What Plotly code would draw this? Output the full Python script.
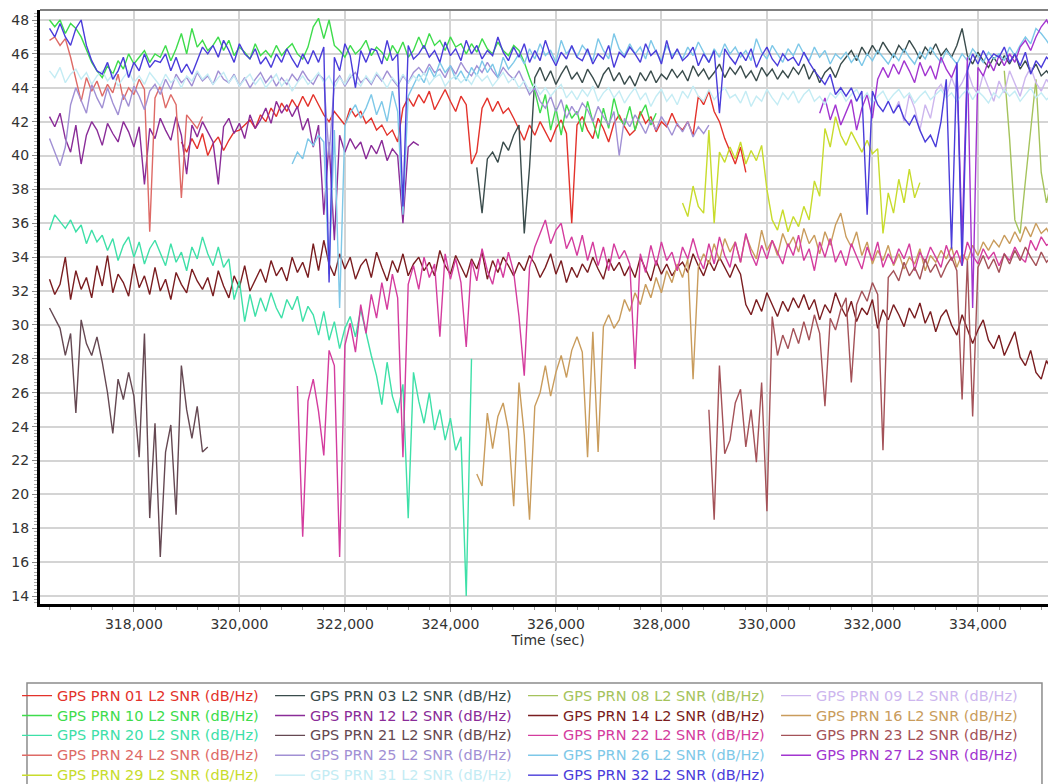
import plotly.graph_objects as go

# Sample interval of every SNR record (seconds)
STEP = 100

prn01_start = 318900
prn01_snr = [40.8, 40.2, 41.0, 40.4, 41.3, 40.0, 40.7, 41.1, 40.3, 40.9, 41.4, 41.5,
             41.8, 42.1, 41.6, 42.4, 42.0, 42.8, 42.3, 43.1, 42.6, 43.3, 42.8,
             43.5, 42.9, 43.6, 43.0, 42.4, 42.0, 42.6, 42.2, 41.8,
             42.8, 42.3, 42.6, 41.9, 42.2, 41.5, 41.8, 41.2, 41.5, 40.8,
             42.8, 43.4, 42.9, 43.6, 43.1, 43.8, 42.7, 43.3, 43.9, 43.2, 42.6, 43.5, 43.0,
             39.5, 40.2, 42.8, 43.4, 42.6, 43.2, 42.5,
             42.8, 42.2, 41.5, 40.9, 41.8, 41.2, 42.0, 41.4, 40.8,
             41.6, 42.1, 41.3, 36.0, 41.8, 42.3, 41.5, 41.0, 42.2, 41.6, 40.8, 41.9, 42.4, 41.7, 41.2,
             41.5, 42.6, 41.9, 42.3, 41.4, 42.0, 41.7, 42.5, 41.8, 41.5,
             42.0, 41.2, 43.5, 43.0, 43.8, 42.6, 42.0, 41.0, 40.2, 39.5, 40.5, 39.0]

prn03_start = 324500
prn03_snr = [39.3, 36.6, 39.8, 40.2, 39.6, 40.8, 40.3, 41.2, 41.8, 35.4,
             39.3, 44.6, 45.2, 44.4, 45.0, 44.2, 44.8, 45.3, 44.5,
             44.9, 44.3, 45.1, 44.6, 44.0, 44.8, 45.2, 44.4, 44.9, 44.2,
             44.7, 44.1, 44.9, 44.4, 45.0, 44.3, 44.8, 44.5, 45.1, 44.6,
             45.0, 44.4, 45.3, 44.7, 45.1, 44.5, 44.9, 45.4, 44.6, 45.2,
             44.8, 45.3, 44.6, 45.0, 44.4, 45.2, 44.7, 45.1, 44.5, 45.0,
             44.6, 45.2, 44.8, 45.4, 44.5, 45.1, 44.3, 44.9, 45.2, 44.6,
             45.4, 45.8, 46.2, 45.6, 46.4, 45.9, 46.5, 46.0, 46.7, 46.2,
             45.8, 46.5, 46.1, 46.8, 46.3, 45.7, 46.4, 46.0, 46.6, 45.9,
             46.3, 45.8, 46.5, 47.5, 45.9, 45.4, 46.1, 45.6, 45.2, 45.8,
             45.3, 45.9, 45.4, 46.0, 45.1, 45.6, 44.9, 45.4, 44.7, 45.0, 44.6]

prn08_start = 334500
prn08_snr = [45.0, 41.0, 36.2, 35.4, 38.5, 41.5, 44.5, 39.0, 37.2, 38.6]

prn09_start = 332400
prn09_snr = [42.5, 43.2, 42.0, 43.6, 42.8, 41.5, 43.0, 42.2, 43.8, 44.2,
             43.5, 44.6, 43.8, 44.3, 45.0, 44.1, 43.6, 44.8, 44.0, 43.2,
             44.4, 43.7, 45.0, 44.2, 43.5, 44.6, 45.2, 44.3, 43.8, 44.5, 44.0]

prn10_start = 316400
prn10_snr = [48.0, 47.6, 48.0, 47.2, 47.8, 47.5, 47.0, 46.2, 45.5, 45.0,
             44.6, 45.3, 44.8, 45.6, 45.1, 46.0, 45.4, 45.8, 46.2, 45.5,
             46.0, 45.8, 46.5, 45.6, 46.3, 47.2, 46.0, 47.5, 46.4, 46.8,
             46.2, 46.5, 47.0, 46.2, 46.8, 45.9, 46.4, 46.1, 45.7, 46.6,
             45.9, 46.2, 45.8, 46.5, 45.9, 46.3, 46.6, 46.0, 45.7, 46.4,
             47.6, 48.1, 46.9, 48.0, 46.5, 46.2, 45.8, 46.5, 46.0, 46.3,
             46.8, 45.9, 46.4, 46.1, 45.6, 46.5, 46.0, 46.7, 45.8, 46.2,
             47.0, 46.3, 47.2, 46.5, 46.8, 46.2, 47.0, 46.4, 46.6, 46.0,
             46.6, 46.1, 46.9, 46.3, 46.0, 46.7, 46.2, 45.9, 46.5, 46.2,
             45.5, 44.6, 43.8, 42.5, 43.6, 41.5, 42.8, 41.2, 43.0, 42.2,
             42.6, 41.4, 43.2, 42.0, 41.0, 42.8, 41.6, 43.4, 42.2, 41.8,
             42.9, 41.5, 42.4, 43.0, 41.8, 42.5]

prn12_start = 316400
prn12_snr = [42.3, 41.7, 42.5, 41.0, 40.2, 41.8, 39.5, 41.2, 42.0, 41.5,
             40.6, 41.9, 41.3, 40.8, 42.0, 41.4, 40.5, 41.7, 38.3, 41.6,
             41.0, 42.2, 41.5, 40.9, 42.3, 41.2, 38.9, 41.8, 41.1, 42.0,
             41.4, 40.8, 38.3, 41.7, 42.2, 41.3, 41.9, 41.0, 42.4, 41.6,
             42.1, 42.8, 41.9, 43.2, 42.5, 43.0, 42.3, 42.9, 41.5, 42.2,
             40.5, 41.8, 36.5, 40.8, 35.0, 41.2, 40.2, 41.0, 40.4, 40.8,
             39.8, 40.6, 40.1, 40.9, 39.7, 40.4, 40.0, 36.0, 40.5, 40.8, 40.6]

prn14_start = 316400
prn14_snr = [32.7, 31.8, 32.4, 34.0, 31.5, 33.2, 32.1, 32.8, 31.6, 33.5,
             32.3, 34.1, 31.9, 33.0, 32.5, 31.7, 33.6, 32.2, 32.9, 31.8,
             33.4, 32.0, 32.7, 31.5, 33.1, 32.4, 31.9, 33.3, 32.6, 32.1,
             32.8, 31.7, 33.2, 32.3, 31.6, 32.9, 32.2, 33.5, 32.0, 32.7,
             33.3, 32.5, 33.8, 32.9, 33.4, 32.6, 34.0, 33.1, 33.7, 32.8,
             34.8, 33.2, 35.0, 33.6, 32.9, 34.2, 33.3, 34.0, 32.7, 33.5,
             33.9, 32.8, 34.3, 33.4, 32.6, 33.8, 33.1, 34.2, 32.9, 33.6,
             34.0, 33.2, 33.7, 32.9, 34.4, 33.5, 33.0, 34.1, 33.4, 32.8,
             33.9, 33.3, 34.3, 32.7, 33.8, 33.1, 34.0, 33.5, 32.9, 33.7,
             33.2, 34.1, 33.6, 32.8, 33.4, 34.2, 33.0, 33.8, 32.5, 33.4,
             32.8, 33.6, 33.1, 34.0, 33.3, 32.7, 33.9, 33.2, 33.7, 32.9,
             33.5, 32.8, 34.0, 33.3, 32.6, 33.8, 33.0, 33.6, 32.9, 33.4,
             33.7, 33.1, 34.2, 33.5, 32.9, 33.8, 33.2, 34.0, 33.4, 32.8,
             33.6, 33.0, 31.2, 30.6, 31.5, 30.8, 31.9, 31.2, 30.5, 31.4,
             30.8, 31.6, 31.0, 31.8, 30.9, 31.5, 30.3, 31.2, 30.7, 31.9,
             31.1, 30.5, 31.4, 30.2, 31.0, 30.6, 31.5, 29.8, 30.9, 30.3,
             31.2, 30.6, 29.9, 31.0, 30.4, 31.3, 30.1, 30.8, 29.6, 30.5,
             30.9, 30.0, 29.4, 30.6, 29.8, 28.9, 29.7, 30.3, 29.1, 28.6,
             29.4, 28.2, 28.9, 29.6, 28.1, 27.6, 28.5, 27.2, 26.8, 27.9, 27.3]

prn16_start = 324500
prn16_snr = [21.2, 20.5, 24.8, 22.7, 24.6, 25.4, 23.8, 19.3, 26.6,
             23.5, 18.5, 25.2, 26.0, 27.6, 25.8, 27.2, 28.2, 26.9, 28.5,
             29.3, 28.4, 22.2, 29.6, 22.5, 29.9, 30.6, 29.8, 30.3, 31.5,
             30.8, 31.9, 31.2, 32.4, 31.6, 32.8, 31.9, 33.2, 32.5, 33.6,
             32.8, 33.9, 26.8, 33.4, 34.2, 33.6, 34.8, 33.8, 35.1, 34.3,
             34.9, 33.7, 35.3, 34.5, 33.9, 35.6, 34.4, 35.0, 34.1, 35.4,
             34.6, 35.2, 34.3, 35.7, 34.8, 35.3, 34.2, 35.5, 34.7, 35.9,
             36.6, 35.2, 34.6, 35.5, 34.1, 34.9, 33.6, 34.4, 33.8, 34.7,
             33.5, 34.2, 33.3, 34.0, 33.6, 34.5, 33.2, 34.1, 33.7, 34.4,
             33.9, 34.6, 33.4, 34.2, 33.8, 34.7, 34.1, 34.9, 34.4, 35.0,
             34.6, 35.3, 34.8, 35.5, 34.9, 35.8, 35.2, 36.0, 35.4, 35.7, 35.1]

prn20_start = 316400
prn20_snr = [35.6, 36.5, 36.1, 35.7, 36.2, 35.5, 35.9, 34.8, 35.6, 34.9,
             35.3, 34.4, 35.1, 33.8, 34.7, 35.2, 34.0, 34.9, 33.6, 34.5,
             35.0, 34.2, 33.5, 34.8, 33.7, 34.3, 33.2, 34.6, 33.9, 35.2,
             34.2, 33.5, 34.6, 33.4, 33.9, 31.5, 32.6, 30.2, 31.8, 30.5,
             31.6, 30.8, 31.9, 31.0, 30.4, 31.5, 30.9, 31.7, 30.2, 31.1,
             30.6, 29.4, 30.8, 29.1, 30.2, 28.6, 29.8, 30.5, 29.3, 30.9,
             29.5, 28.2, 27.0, 25.3, 27.8, 25.8, 24.8, 26.5, 18.6, 27.2,
             25.5, 24.2, 26.0, 23.8, 25.0, 23.2, 24.5, 22.6, 23.4, 14.0, 28.0]

prn21_start = 316400
prn21_snr = [31.0, 30.4, 29.8, 28.2, 29.5, 24.8, 30.3, 28.9, 28.2, 29.3,
             27.8, 26.0, 23.6, 26.8, 25.6, 27.2, 25.8, 22.2, 29.5, 18.6,
             24.2, 16.3, 22.5, 24.1, 18.8, 27.6, 25.0, 23.3, 25.2, 22.5, 22.8]

prn22_start = 321100
prn22_snr = [26.4, 17.5, 25.5, 26.8, 24.9, 22.3, 28.5, 27.6, 16.3, 28.8, 30.1, 28.4, 31.2,
             29.5, 31.8, 30.4, 32.5, 30.9, 33.0, 31.6, 22.2, 32.4, 33.5,
             32.1, 34.0, 32.8, 33.6, 29.3, 34.2, 32.7, 33.9, 32.5, 28.7,
             33.8, 32.6, 34.5, 33.2, 32.4, 33.9, 32.8, 34.3, 33.1, 30.5,
             27.0, 33.4, 34.6, 35.4, 36.2, 34.8, 35.6, 36.0, 34.5, 35.2,
             34.1, 35.3, 33.8, 34.9, 33.5, 34.6, 33.2, 34.8, 33.9, 34.4,
             33.6, 27.4, 34.2, 33.1, 34.7, 33.5, 34.9, 33.8, 34.3, 33.2,
             34.6, 33.9, 35.1, 34.0, 33.3, 34.8, 33.6, 35.2, 34.1, 33.4,
             34.9, 33.7, 35.4, 34.2, 33.5, 34.7, 33.9, 35.0, 34.3, 33.6,
             34.8, 34.1, 35.3, 33.8, 34.5, 33.2, 34.9, 34.0, 35.1, 33.7,
             34.4, 33.5, 34.8, 34.0, 33.3, 34.6, 33.8, 34.9, 33.4, 34.2,
             33.6, 34.5, 33.9, 34.8, 33.2, 34.3, 33.7, 34.6, 34.0, 33.4,
             34.7, 33.8, 34.4, 33.5, 34.9, 34.1, 33.6, 34.5, 33.9, 34.3,
             33.5, 34.2, 33.8, 34.6, 34.0, 33.7, 35.0, 34.4, 35.2, 34.7, 34.9]

prn23_start = 328900
prn23_snr = [25.0, 18.5, 27.6, 22.4, 23.2,
             25.4, 26.2, 22.8, 25.0, 21.9, 26.6, 19.0, 30.5, 28.2, 29.4,
             28.6, 29.8, 28.9, 30.2, 29.1, 30.6, 29.5, 25.2, 30.4, 29.7,
             30.9, 31.6, 26.6, 31.2, 32.0, 31.4, 32.5, 31.8, 22.6, 32.8,
             33.2, 32.6, 33.7, 32.9, 33.4, 32.7, 33.9, 33.1, 33.6, 32.8,
             33.5, 34.0, 33.2, 25.6, 33.8, 24.6, 33.4, 34.1, 33.3, 33.9,
             33.1, 34.2, 33.6, 34.4, 33.8, 34.6, 34.0, 33.5, 34.3, 33.7, 34.1]

prn24_start = 316400
prn24_snr = [46.8, 47.0, 46.5, 46.9, 45.8, 44.5, 43.2, 44.6, 43.8, 44.4,
             43.5, 44.2, 43.7, 44.8, 43.3, 44.0, 43.6, 44.5, 43.9, 35.5,
             43.4, 44.1, 42.8, 43.6, 43.0, 37.5, 42.4, 42.0, 41.6, 42.3]

prn25_start = 316400
prn25_snr = [41.0, 40.2, 39.4, 40.5, 43.0, 44.0, 43.2, 42.5, 44.2, 43.4,
             42.8, 44.0, 43.1, 42.4, 43.6, 42.9, 44.1, 43.5, 42.7, 43.8,
             44.2, 43.6, 44.5, 43.9, 44.8, 44.3, 44.6, 44.1, 44.9, 44.4,
             44.7, 44.2, 45.0, 44.5, 44.3, 44.8, 44.1, 44.6, 44.0, 44.5,
             44.9, 44.3, 44.7, 44.1, 44.6, 44.2, 44.8, 44.4, 45.0, 44.5,
             44.2, 44.8, 44.5, 40.0, 44.3, 44.7, 44.1, 44.6, 44.9, 44.3,
             44.6, 44.2, 44.8, 44.4, 45.0, 44.5, 44.1, 44.7, 44.3, 44.9,
             45.2, 44.8, 45.4, 44.9, 45.1, 44.6, 45.3, 44.8, 45.5, 45.0,
             44.7, 45.3, 44.9, 45.5, 45.0, 44.6, 45.2, 44.8, 44.5, 45.0,
             44.3, 43.6, 44.0, 43.2, 42.8, 43.5, 42.6, 43.3, 42.2, 42.9,
             42.4, 43.1, 42.7, 42.0, 42.9, 42.3, 41.8, 42.6, 40.0, 42.2,
             41.7, 42.4, 41.9, 41.3, 42.1, 41.5, 42.3, 41.8, 41.2, 41.9,
             41.4, 42.0, 41.1, 41.7, 41.3, 41.8]

prn26_start = 321000
prn26_snr = [39.5, 40.2, 39.8, 41.0,
             40.6, 41.2, 40.8, 33.0, 41.5, 31.0, 41.8, 42.5, 43.0, 42.2,
             42.8, 43.6, 42.4, 43.2, 42.0, 43.8, 42.6, 36.5, 43.5, 44.2,
             44.8, 44.3, 45.2, 44.6, 45.5, 44.9, 45.3, 44.5, 45.0, 44.4,
             45.2, 44.7, 45.6, 44.9, 45.4, 44.6, 45.8, 45.1, 45.5, 46.0,
             45.4, 46.3, 45.7, 46.6, 45.9, 46.2, 45.5, 46.8, 46.0, 46.4,
             45.8, 46.5, 46.1, 45.6, 46.9, 46.2, 45.7, 47.2, 46.3, 45.9,
             46.6, 46.0, 46.4, 45.7, 46.8, 46.1, 45.6, 46.5, 45.9, 46.2,
             45.7, 46.4, 45.9, 46.7, 46.1, 45.5, 46.3, 45.8, 46.6, 46.0,
             46.4, 45.8, 46.2, 45.6, 46.9, 46.1, 45.7, 46.5, 46.0, 45.5,
             46.3, 45.9, 46.6, 46.0, 45.6, 46.4, 45.8, 46.2, 45.4, 46.0,
             45.7, 46.1, 45.5, 45.9, 45.3, 46.0, 45.6, 46.2, 45.8, 45.4,
             46.0, 45.6, 46.3, 45.8, 45.4, 46.1, 45.7, 46.4, 45.9, 45.5,
             46.2, 45.8, 45.4, 46.0, 45.6, 46.3, 45.9, 45.5, 46.1, 45.7,
             46.0, 45.6, 46.4, 45.9, 46.5, 47.0, 46.6, 47.5, 47.2, 46.8, 46.3]

prn27_start = 331000
prn27_snr = [42.5, 43.4, 42.1, 43.0,
             41.8, 42.6, 43.3, 41.5, 42.8, 43.6, 42.2, 44.5, 45.2, 44.6,
             45.4, 44.8, 45.6, 45.0, 44.3, 45.5, 44.7, 45.3, 44.5, 45.8,
             45.1, 44.6, 45.4, 35.0, 45.8, 31.0, 45.2, 44.7, 45.6, 45.0,
             45.9, 45.3, 46.0, 45.5, 46.4, 46.8, 46.2, 47.0, 47.6, 48.0, 47.4]

prn29_start = 328400
prn29_snr = [37.2, 36.4, 38.2, 37.0, 36.6, 41.5, 36.0, 40.2, 39.6, 40.5,
             39.8, 40.8, 39.5, 40.3, 39.7, 40.6, 38.0, 36.2, 35.6, 36.8,
             35.5, 36.4, 35.8, 37.0, 36.2, 38.5, 37.6, 41.6, 40.5, 42.3,
             41.2, 40.6, 41.4, 40.8, 40.2, 40.9, 40.1, 40.4, 35.4, 37.8,
             36.6, 38.6, 37.2, 39.2, 37.5, 38.4]

prn31_start = 316400
prn31_snr = [45.0, 44.6, 45.2, 44.3, 44.8, 45.1, 44.5, 44.9, 44.2, 44.7,
             45.0, 44.4, 44.8, 44.1, 44.6, 45.0, 44.3, 44.7, 44.2, 44.9,
             44.5, 44.1, 44.8, 44.3, 44.6, 44.0, 44.7, 44.4, 45.0, 44.5,
             44.8, 44.2, 44.6, 44.9, 44.3, 44.7, 44.1, 44.5, 44.8, 44.2,
             44.6, 44.0, 44.4, 44.8, 44.1, 44.5, 43.8, 44.3, 44.7, 44.2,
             44.5, 44.9, 44.3, 44.7, 44.0, 44.6, 44.2, 44.8, 44.4, 44.1,
             44.7, 44.3, 44.9, 44.5, 44.0, 44.6, 44.2, 44.8, 44.3, 44.7,
             44.4, 44.9, 44.2, 44.6, 44.8, 44.1, 44.5, 44.7, 44.3, 44.6,
             44.2, 44.8, 44.4, 44.7, 44.1, 44.5, 44.9, 44.3, 44.6, 44.0,
             44.4, 43.8, 44.2, 43.6, 44.0, 43.5, 43.9, 44.2, 43.4, 43.8,
             43.3, 43.9, 43.5, 44.1, 43.2, 43.7, 44.0, 43.4, 43.8, 43.1,
             43.6, 44.0, 43.3, 43.7, 42.9, 43.5, 43.9, 43.2, 43.6, 43.0,
             43.8, 43.4, 44.1, 43.5, 43.2, 43.9, 43.3, 43.7, 44.0, 43.4,
             43.6, 43.1, 43.8, 42.9, 43.5, 43.2, 43.9, 43.4, 43.0, 43.7,
             43.3, 43.8, 43.1, 43.6, 43.9, 43.2, 43.5, 43.0, 43.7, 43.4,
             43.8, 43.2, 43.6, 43.9, 43.3, 43.7, 43.1, 43.5, 43.8, 43.2,
             43.6, 43.9, 43.4, 43.7, 43.1, 43.5, 43.8, 43.3, 43.6, 43.9,
             43.4, 43.7, 43.2, 43.6, 43.9, 43.3, 43.8, 43.5, 43.1, 43.7,
             43.4, 43.9, 43.5, 43.8, 43.2, 43.6, 44.0, 43.4, 43.7, 43.3, 43.6]

prn32_start = 316400
prn32_snr = [47.5, 47.0, 47.8, 47.0, 46.5, 47.5, 48.0, 46.5, 45.6, 45.0,
             44.8, 45.5, 44.5, 45.0, 45.8, 44.6, 45.5, 45.0, 46.0, 45.2,
             45.6, 45.5, 46.0, 45.0, 45.8, 44.9, 45.4, 44.8, 45.6, 46.4,
             46.0, 46.5, 45.8, 46.8, 46.2, 45.5, 46.6, 46.0, 45.7, 46.3,
             45.4, 45.8, 45.2, 46.0, 45.5, 46.3, 45.7, 45.2, 46.0, 45.4,
             46.2, 45.5, 46.4, 32.5, 45.8, 45.0, 46.6, 45.9, 44.0, 46.2,
             45.5, 46.3, 46.2, 45.4, 46.8, 45.6, 46.0, 37.0, 46.5, 45.7,
             46.0, 46.5, 45.8, 46.2, 45.5, 46.7, 45.9, 46.3, 45.6, 46.8,
             46.0, 46.5, 45.7, 46.2, 45.9, 47.0, 46.1, 45.6, 46.4, 45.8,
             46.6, 45.5, 46.2, 45.6, 46.8, 45.9, 45.3, 46.1, 45.7, 46.5,
             45.8, 45.6, 46.3, 45.4, 46.0, 45.7, 46.5, 45.2, 46.1, 45.8,
             46.4, 46.0, 45.5, 46.6, 45.9, 46.2, 45.4, 46.8, 45.7, 46.3,
             45.6, 45.9, 46.4, 45.3, 46.0, 45.5, 46.2, 42.5, 46.3, 45.8,
             45.4, 46.1, 45.6, 46.3, 45.2, 45.9, 46.4, 45.7, 45.3, 46.0,
             45.6, 45.8, 45.3, 46.1, 45.5, 45.0, 44.6, 44.2, 44.8, 43.6,
             44.0, 43.5, 44.0, 43.2, 43.8, 36.5, 43.8, 43.0, 42.6, 43.2,
             42.5, 43.0, 42.2, 41.8, 42.4, 41.5, 40.8, 41.2, 40.5, 42.0,
             44.5, 34.5, 45.5, 33.5, 45.0, 46.0, 45.4, 46.2, 45.6, 46.0,
             45.8, 46.4, 45.5, 46.0, 45.3, 46.1, 44.8, 45.6, 45.2, 45.8, 45.5]

prn_labels = ["01", "03", "08", "09", "10", "12", "14", "16", "20", "21",
              "22", "23", "24", "25", "26", "27", "29", "31", "32"]
prn_colors = ["#e3322b", "#3a4c4c", "#a5c35c", "#cdb6ee", "#3edc4c", "#8a2c98",
              "#7a1d20", "#c99c5c", "#3ee0a8", "#654852", "#d43c9e", "#a45258",
              "#de6a66", "#a190d4", "#7ec8e8", "#a235d0", "#c8dc2c", "#c4ecf4",
              "#4a3cda"]
prn_starts = [prn01_start, prn03_start, prn08_start, prn09_start, prn10_start,
              prn12_start, prn14_start, prn16_start, prn20_start, prn21_start,
              prn22_start, prn23_start, prn24_start, prn25_start, prn26_start,
              prn27_start, prn29_start, prn31_start, prn32_start]
prn_values = [prn01_snr, prn03_snr, prn08_snr, prn09_snr, prn10_snr, prn12_snr,
              prn14_snr, prn16_snr, prn20_snr, prn21_snr, prn22_snr, prn23_snr,
              prn24_snr, prn25_snr, prn26_snr, prn27_snr, prn29_snr, prn31_snr,
              prn32_snr]

fig = go.Figure()
for lab, col, t0, vals in zip(prn_labels, prn_colors, prn_starts, prn_values):
    times = [t0 + STEP * k for k in range(len(vals))]
    fig.add_trace(go.Scatter(
        x=times, y=vals, mode="lines",
        line=dict(color=col, width=1.4),
        name=f"<span style='color:{col};font-size:14.5px'>GPS PRN {lab} L2 SNR (dB/Hz)</span>",
    ))

grid_col = "#d4d4d4"
fig.update_layout(
    width=1048, height=776,
    margin=dict(l=32, r=0, t=2, b=180, autoexpand=False),
    paper_bgcolor="white", plot_bgcolor="white",
    font=dict(family="DejaVu Sans", size=14, color="#333333"),
    showlegend=True,
    legend=dict(orientation="h", x=-0.0226, xanchor="left", y=-0.129, yanchor="top",
                entrywidth=208, entrywidthmode="pixels", font=dict(size=13),
                bgcolor="rgba(0,0,0,0)", borderwidth=0, itemwidth=30),
    xaxis=dict(range=[316220, 335480], dtick=2000, tick0=0, tickformat=",d",
               showgrid=True, gridcolor=grid_col, gridwidth=1.8,
               ticks="outside", ticklen=5, tickcolor="#888888",
               minor=dict(dtick=400, ticks="outside", ticklen=3, tickcolor="#999999", showgrid=False),
               showline=True, linecolor="black", linewidth=3, zeroline=False,
               title=dict(text="Time (sec)", standoff=4, font=dict(size=14))),
    yaxis=dict(range=[13.53, 48.59], dtick=2, tick0=0,
               showgrid=True, gridcolor=grid_col, gridwidth=1.8,
               ticks="outside", ticklen=5, tickcolor="#888888",
               minor=dict(dtick=0.2, ticks="outside", ticklen=3, tickcolor="#aaaaaa", showgrid=False),
               showline=True, linecolor="black", linewidth=3, zeroline=False),
    shapes=[
        dict(type="line", xref="paper", yref="paper", x0=0, x1=1, y0=1, y1=1,
             line=dict(color="#808080", width=2)),
        dict(type="rect", xref="paper", yref="paper",
             x0=-0.0128, x1=0.9862, y0=-0.133, y1=-0.34,
             line=dict(color="#8c8c8c", width=1.5), fillcolor="rgba(0,0,0,0)"),
    ],
)

fig.write_html("out.html")
